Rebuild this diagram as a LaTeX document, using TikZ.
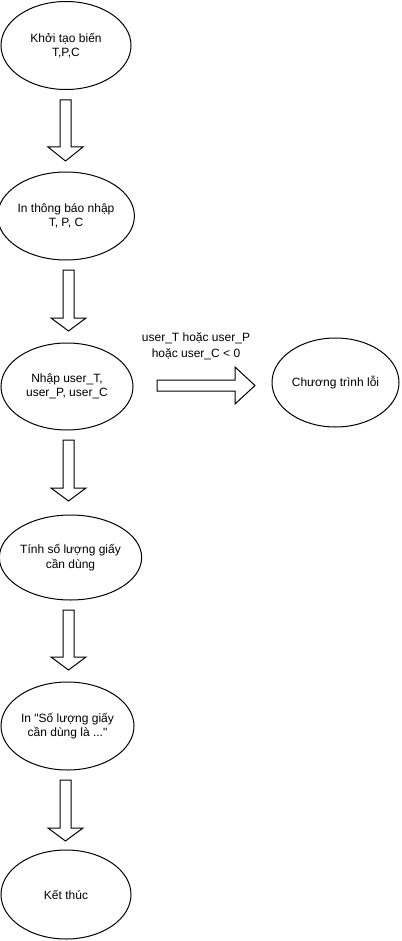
\documentclass[tikz,border=0pt]{standalone}
\usepackage{fontspec}
\setmainfont{Liberation Sans}[Ligatures=TeXOff]
\usetikzlibrary{shapes.geometric}
\tikzset{
  oval/.style={ellipse, draw=black, line width=1pt, inner sep=0pt, align=center,
    font=\fontsize{12}{14.5}\selectfont},
  blockarrow/.style={draw=black, line width=1pt, fill=white, line join=miter},
  lbl/.style={inner sep=0pt, align=center, font=\fontsize{12}{16}\selectfont}
}
% down block arrow: #1 = x centre, #2 = top y, #3 = head base y, #4 = tip y
\newcommand\DownBlock[4]{%
  \draw[blockarrow] (#1-5.5,#2) -- (#1+5.5,#2) -- (#1+5.5,#3) -- (#1+17.5,#3)
    -- (#1,#4) -- (#1-17.5,#3) -- (#1-5.5,#3) -- cycle;}
\begin{document}
\begin{tikzpicture}[x=1pt,y=-1pt]
\useasboundingbox (0,0) rectangle (401,941);

\node[oval, minimum width=130pt, minimum height=88pt] (e1) at (66,45.5) {Khởi tạo biến\\T,P,C};
\node[oval, minimum width=130pt, minimum height=88pt] (e2) at (66,216) {In thông báo nhập\\T, P, C};
\node[oval, minimum width=132pt, minimum height=87pt] (e3) at (67,386.5) {Nhập user\_T,\\user\_P, user\_C};
\node[oval, minimum width=127pt, minimum height=89pt] (e4) at (335.5,382.5) {Chương trình lỗi};
\node[oval, minimum width=127pt, minimum height=85pt] (e5) at (70.5,557.5) {Tính số lượng giấy\\cần dùng};
\node[oval, minimum width=133pt, minimum height=88pt] (e6) at (67.5,726) {In "Số lượng giấy\\cần dùng là ..."};
\node[oval, minimum width=130pt, minimum height=89pt] (e7) at (66,894.5) {Kết thúc};

\DownBlock{65.5}{100}{147}{161}
\DownBlock{68.5}{270}{318}{331}
\DownBlock{68.5}{440}{488}{501}
\DownBlock{68.5}{610}{657}{670}
\DownBlock{65.5}{780}{828}{841}

\draw[blockarrow] (157,380) -- (235,380) -- (235,367) -- (255,385.5)
  -- (235,404) -- (235,391) -- (157,391) -- cycle;

\node[lbl] (cond) at (196,346) {user\_T hoặc user\_P\\hoặc user\_C < 0};
\end{tikzpicture}
\end{document}
